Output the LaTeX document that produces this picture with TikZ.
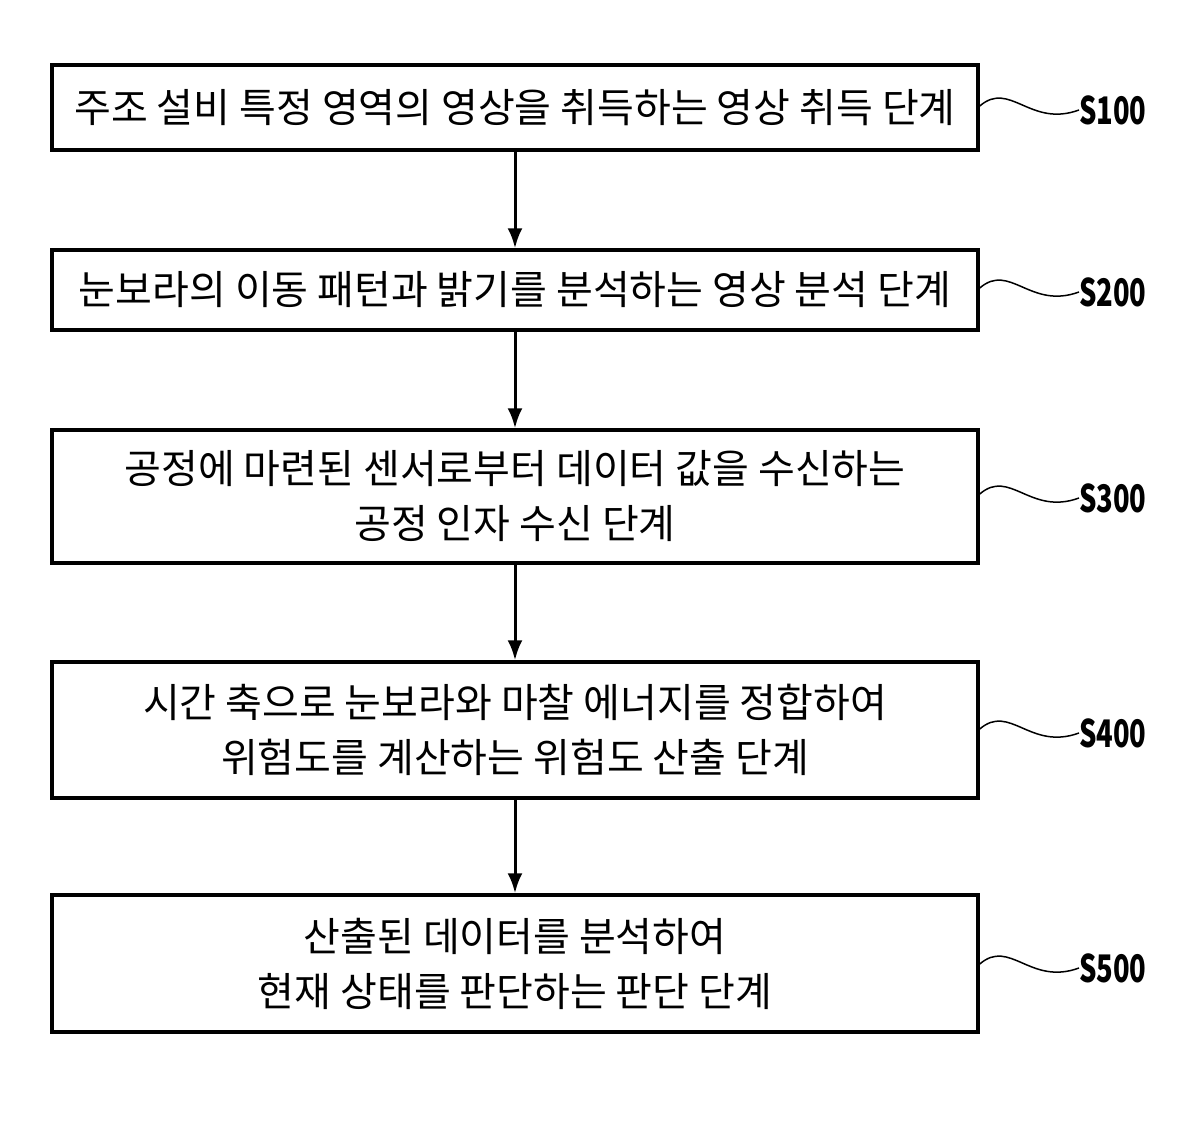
\documentclass[tikz,border=0pt]{standalone}
\usepackage{fontspec}
\setmainfont{Noto Sans CJK KR}
\usetikzlibrary{arrows.meta}
\begin{document}
\begin{tikzpicture}[x=1pt,y=-1pt,
 box/.style={draw,line width=3.5pt,minimum width=926pt,align=center,font=\fontsize{40}{55}\selectfont,inner sep=0pt},
 lab/.style={font=\fontsize{38}{40}\selectfont\bfseries,anchor=west,inner sep=0pt,xscale=0.72},
 arr/.style={line width=3pt,-{Latex[length=20pt,width=15pt]}},
 sq/.style={line width=1.5pt}]
\useasboundingbox (0,0) rectangle (1200,1124);
\node[box,minimum height=85pt] (b1) at (515,107.5) {주조 설비 특정 영역의 영상을 취득하는 영상 취득 단계};
\node[box,minimum height=80pt] (b2) at (515,290) {눈보라의 이동 패턴과 밝기를 분석하는 영상 분석 단계};
\node[box,minimum height=133pt] (b3) at (515,496.5) {공정에 마련된 센서로부터 데이터 값을 수신하는\\공정 인자 수신 단계};
\node[box,minimum height=136pt] (b4) at (515,730) {시간 축으로 눈보라와 마찰 에너지를 정합하여\\위험도를 계산하는 위험도 산출 단계};
\node[box,minimum height=137pt] (b5) at (515,963.5) {산출된 데이터를 분석하여\\현재 상태를 판단하는 판단 단계};
\draw[arr] (b1) -- (b2);
\draw[arr] (b2) -- (b3);
\draw[arr] (b3) -- (b4);
\draw[arr] (b4) -- (b5);
\foreach \b/\t/\y in {b1/S100/110,b2/S200/292,b3/S300/498,b4/S400/733,b5/S500/968}{
 \node[lab] (l\b) at (1079,\y) {\t};
 \coordinate (s\b) at (\b.east |- 0,\y-4);
 \draw[sq] (s\b) .. controls (1010,\y-30) and (1030,\y+18) .. (l\b.west);
}
\end{tikzpicture}
\end{document}
